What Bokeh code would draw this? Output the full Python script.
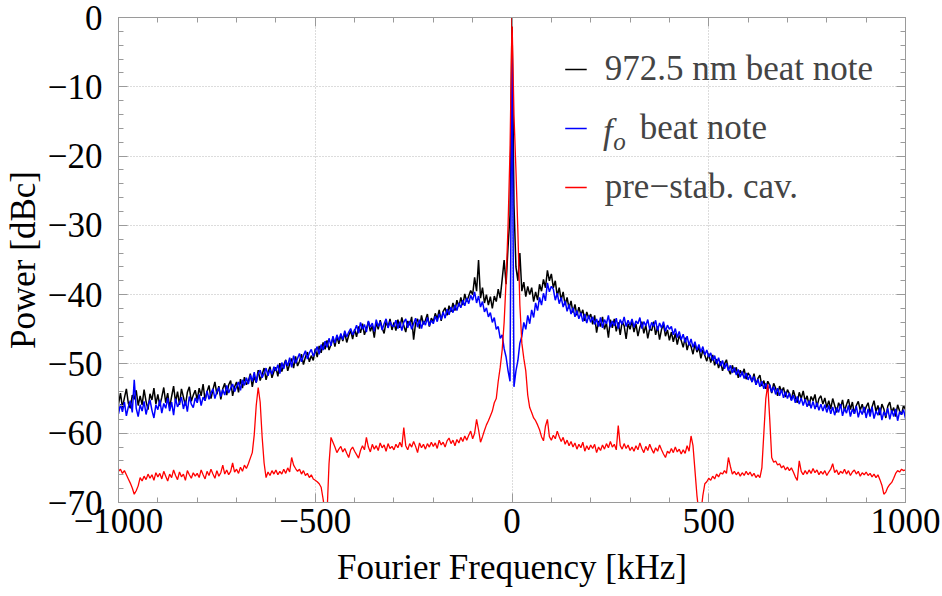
from bokeh.plotting import figure
from bokeh.models import Range1d, FixedTicker, LinearAxis, Legend, LegendItem, Label
from bokeh.embed import file_html
from bokeh.resources import INLINE

# ---------------- data ----------------
freq_khz = list(range(-1000, 1001, 5))

beat_972 = [
    # -1000 .. -905
    -55.8, -54.2, -56.3, -54.9, -53.6, -55.7, -56.4, -54.5, -55.1, -53.8, -56.0, -54.6, -55.9, -53.7, -55.4, -56.6, -54.3, -55.2, -53.5, -55.8,
    # -900 .. -805
    -54.4, -56.1, -54.8, -53.4, -55.6, -54.2, -56.3, -54.7, -53.2, -55.5, -54.0, -55.9, -53.6, -54.8, -56.0, -54.1, -53.3, -55.4, -54.5, -53.8,
    # -800 .. -705
    -55.2, -53.5, -54.6, -52.9, -55.3, -54.0, -53.1, -55.0, -53.7, -52.6, -54.4, -53.2, -55.1, -53.6, -52.8, -54.5, -53.0, -52.4, -54.6, -53.3,
    # -700 .. -605
    -52.6, -54.1, -52.2, -53.5, -51.9, -53.0, -52.5, -51.4, -53.3, -51.8, -52.7, -50.9, -52.4, -51.5, -50.6, -52.3, -51.2, -50.4, -52.0, -51.1,
    # -600 .. -505
    -50.5, -51.8, -49.9, -51.1, -50.2, -49.4, -51.0, -50.0, -49.2, -50.6, -48.9, -50.3, -49.6, -48.6, -50.1, -49.0, -48.3, -49.7, -48.8, -49.5,
    # -500 .. -405
    -47.8, -49.0, -47.4, -48.4, -46.9, -47.9, -46.6, -48.0, -47.2, -46.2, -47.5, -46.0, -47.1, -45.8, -46.7, -45.5, -46.9, -45.9, -45.2, -46.4,
    # -400 .. -305
    -45.0, -46.1, -44.6, -45.5, -44.2, -45.8, -44.9, -43.9, -45.3, -44.5, -46.2, -44.0, -45.0, -43.7, -44.8, -45.6, -43.9, -44.7, -43.5, -45.1,
    # -300 .. -205
    -44.0, -45.2, -43.6, -44.8, -43.3, -44.5, -45.4, -43.8, -44.4, -43.2, -46.5, -44.1, -43.5, -44.9, -43.0, -44.3, -43.7, -42.8, -44.6, -43.4,
    # -200 .. -105
    -43.9, -42.7, -43.5, -42.2, -43.8, -42.4, -41.9, -43.0, -41.6, -42.5, -41.2, -42.3, -40.8, -41.7, -40.4, -41.5, -39.9, -41.0, -40.2, -39.4,
    # -100 .. -5
    -40.0, -37.5, -39.5, -35.0, -40.5, -39.0, -41.2, -40.0, -41.5, -40.3, -42.0, -40.2, -41.0, -39.2, -40.5, -37.8, -35.0, -38.5, -33.0, -28.5,
    # 0
    0.0,
    # 5 .. 100
    -27.0, -36.0, -38.0, -34.0, -39.5, -38.2, -40.3, -38.8, -40.0, -39.0, -41.0, -39.6, -40.8, -38.5, -39.5, -37.8, -39.0, -36.5, -38.0, -37.0,
    # 105 .. 200
    -39.0, -38.0, -40.2, -39.0, -40.8, -39.6, -41.5, -40.4, -42.0, -40.9, -42.6, -41.4, -43.0, -41.8, -42.9, -42.2, -43.8, -42.5, -43.4, -42.8,
    # 205 .. 300
    -44.3, -43.0, -45.5, -43.8, -44.6, -43.2, -45.0, -44.1, -46.2, -43.6, -44.8, -43.5, -45.3, -44.0, -45.8, -43.9, -44.5, -46.4, -44.2, -45.0,
    # 305 .. 400
    -43.8, -45.4, -44.2, -46.0, -44.7, -43.9, -45.6, -44.4, -46.3, -44.9, -45.2, -43.9, -45.8, -44.6, -46.5, -45.0, -44.3, -46.0, -45.1, -46.6,
    # 405 .. 500
    -45.4, -46.8, -45.6, -47.2, -45.9, -46.6, -47.6, -46.2, -48.0, -46.9, -47.5, -48.6, -47.1, -48.3, -47.6, -49.2, -48.0, -48.8, -49.6, -48.5,
    # 505 .. 600
    -49.8, -48.7, -50.2, -49.3, -50.6, -49.6, -51.0, -50.0, -49.4, -50.8, -51.5, -50.2, -51.2, -50.5, -52.0, -50.9, -51.6, -50.7, -52.2, -51.3,
    # 605 .. 700
    -51.8, -52.6, -51.4, -53.0, -52.1, -51.6, -53.2, -52.4, -53.6, -52.5, -53.1, -54.2, -52.8, -53.5, -54.6, -53.2, -54.0, -53.4, -54.8, -53.7,
    # 705 .. 800
    -54.3, -55.2, -53.8, -54.8, -55.6, -54.1, -55.0, -53.9, -55.4, -54.6, -56.0, -54.7, -55.3, -54.4, -56.2, -55.0, -54.6, -55.8, -54.9, -56.3,
    # 805 .. 900
    -55.3, -56.5, -55.0, -56.0, -57.0, -55.6, -56.3, -55.2, -56.8, -55.9, -55.1, -56.6, -55.5, -57.2, -56.0, -55.4, -56.7, -55.8, -57.0, -56.2,
    # 905 .. 1000
    -55.6, -57.1, -56.2, -55.3, -56.9, -56.0, -57.4, -55.8, -56.5, -57.8, -56.1, -55.5, -57.0, -56.3, -57.6, -55.9, -56.8, -57.3, -56.0, -56.6,
]

beat_fo = [
    # -1000 .. -905
    -57.2, -55.8, -56.9, -55.5, -57.5, -56.2, -55.3, -57.0, -52.3, -56.4, -57.6, -55.9, -56.8, -55.4, -57.3, -56.0, -55.2, -56.7, -57.8, -55.9,
    # -900 .. -805
    -56.6, -55.2, -57.1, -55.7, -56.4, -54.9, -56.8, -55.5, -57.4, -55.0, -56.2, -55.6, -54.8, -56.5, -55.3, -56.9, -54.7, -55.8, -56.3, -54.9,
    # -800 .. -705
    -55.6, -54.4, -56.0, -54.8, -55.3, -53.9, -55.1, -54.2, -53.6, -55.0, -54.0, -53.4, -54.7, -53.7, -54.5, -53.1, -54.2, -53.5, -52.9, -54.0,
    # -700 .. -605
    -53.3, -52.6, -53.8, -52.3, -53.1, -52.0, -52.9, -51.6, -52.5, -51.2, -52.7, -51.4, -50.9, -52.0, -51.3, -50.6, -51.7, -50.8, -51.5, -50.4,
    # -600 .. -505
    -51.0, -50.1, -51.4, -49.8, -50.7, -49.5, -50.3, -49.1, -50.5, -48.8, -49.9, -49.2, -48.5, -49.7, -48.8, -48.1, -49.3, -48.4, -47.9, -48.9,
    # -500 .. -405
    -48.2, -47.5, -48.6, -47.2, -48.0, -46.7, -47.6, -46.3, -47.4, -46.0, -47.0, -45.8, -46.6, -45.6, -46.5, -45.2, -46.1, -45.4, -44.9, -45.8,
    # -400 .. -305
    -45.2, -44.4, -45.6, -44.0, -45.0, -44.3, -45.4, -43.8, -44.7, -44.1, -45.3, -43.6, -44.6, -43.9, -45.1, -44.2, -43.5, -44.8, -43.9, -44.5,
    # -300 .. -205
    -44.6, -43.7, -44.9, -43.9, -45.2, -44.0, -43.5, -44.8, -43.8, -45.0, -44.2, -43.4, -44.7, -43.6, -44.9, -43.8, -44.4, -43.3, -44.5, -43.7,
    # -200 .. -105
    -44.2, -43.1, -43.9, -42.8, -43.6, -42.5, -43.4, -42.1, -42.9, -41.8, -42.6, -41.5, -42.3, -41.2, -41.9, -40.8, -41.6, -40.5, -41.3, -40.1,
    # -100 .. -5
    -40.8, -39.6, -41.2, -40.2, -41.8, -41.0, -42.5, -41.9, -43.2, -42.6, -44.0, -43.3, -45.0, -44.6, -46.3, -45.8, -47.8, -49.0, -51.0, -52.5,
    # 0
    -2.5,
    # 5 .. 100
    -53.3, -51.0, -49.5, -47.0, -46.0, -44.0, -45.0, -43.0, -44.2, -42.2, -43.3, -41.2, -42.3, -40.4, -41.5, -39.8, -40.9, -38.3, -39.6, -38.8,
    # 105 .. 200
    -39.2, -40.8, -39.8, -41.3, -40.4, -41.8, -40.9, -42.4, -41.4, -42.8, -41.9, -43.2, -42.3, -43.5, -42.6, -43.9, -42.8, -44.1, -43.0, -44.0,
    # 205 .. 300
    -43.2, -44.3, -43.5, -44.6, -43.3, -44.8, -43.6, -44.2, -43.0, -44.7, -43.8, -44.5, -43.4, -44.9, -43.6, -44.3, -43.2, -44.6, -43.7, -44.4,
    # 305 .. 400
    -43.5, -44.7, -43.8, -44.2, -43.3, -44.9, -43.9, -44.5, -43.6, -45.0, -44.0, -44.6, -43.7, -45.2, -44.1, -44.8, -43.9, -45.3, -44.4, -45.0,
    # 405 .. 500
    -44.6, -45.8, -44.9, -46.2, -45.3, -46.5, -45.7, -46.9, -46.0, -47.3, -46.4, -47.6, -46.8, -48.0, -47.2, -48.3, -47.5, -48.7, -48.0, -49.0,
    # 505 .. 600
    -48.4, -49.5, -48.8, -50.0, -49.1, -50.3, -49.5, -50.7, -49.9, -51.0, -50.2, -51.3, -50.5, -51.6, -50.8, -51.9, -51.1, -52.1, -51.3, -52.3,
    # 605 .. 700
    -51.6, -52.6, -51.8, -53.0, -52.2, -53.3, -52.5, -53.6, -52.8, -53.9, -53.0, -54.1, -53.3, -54.4, -53.5, -54.6, -53.7, -54.9, -54.0, -55.0,
    # 705 .. 800
    -54.2, -55.3, -54.5, -55.6, -54.7, -55.8, -54.9, -56.0, -55.1, -56.2, -55.3, -56.4, -55.4, -56.5, -55.6, -56.7, -55.8, -56.8, -55.9, -57.0,
    # 805 .. 900
    -56.0, -57.2, -56.2, -57.4, -56.3, -57.0, -55.8, -57.5, -56.4, -57.1, -56.0, -57.6, -56.5, -57.2, -56.1, -57.7, -56.6, -57.3, -56.2, -57.8,
    # 905 .. 1000
    -56.5, -57.6, -56.2, -57.9, -56.8, -57.4, -56.3, -58.1, -56.9, -57.5, -56.4, -58.0, -56.7, -57.6, -56.5, -58.2, -56.9, -57.3, -56.6, -57.9,
]

prestab_cav = [
    # -1000 .. -905
    -65.5, -65.2, -65.8, -65.4, -66.0, -66.6, -67.2, -67.9, -68.8, -68.3, -67.6, -66.4, -66.9, -66.2, -66.7, -65.9, -66.5, -66.0, -66.8, -65.7,
    # -900 .. -805
    -66.3, -65.8, -66.6, -65.5, -66.2, -66.9, -65.9, -66.4, -65.3, -66.1, -66.7, -65.6, -66.3, -65.9, -66.8, -65.4, -66.0, -66.5, -65.7, -66.2,
    # -800 .. -705
    -65.8, -66.4, -65.3, -66.0, -66.6, -65.5, -66.1, -65.2, -65.9, -66.5, -65.4, -66.2, -65.7, -64.6, -65.9, -65.3, -66.0, -65.5, -64.3, -65.6,
    # -700 .. -605
    -65.2, -65.8, -64.9, -65.5, -64.6, -65.1, -64.4, -63.6, -62.8, -60.2, -56.0, -53.4, -55.5, -60.5, -64.3, -66.4, -65.6, -66.1, -65.4, -65.9,
    # -600 .. -505
    -65.3, -66.0, -65.5, -65.9, -65.2, -65.8, -65.0, -65.6, -63.5, -64.6, -65.1, -65.5, -65.2, -65.9, -65.4, -66.1, -65.8, -66.4, -66.0, -66.6,
    # -500 .. -405
    -66.8, -67.0, -67.3, -67.8, -69.5, -71.5, -71.5, -64.4, -60.6, -61.3, -62.0, -62.8, -62.3, -61.9, -62.7, -62.2, -62.9, -63.5, -62.4, -62.0,
    # -400 .. -305
    -62.6, -63.1, -63.6, -62.5, -61.8, -62.4, -60.6, -62.0, -62.7, -61.6, -62.3, -61.8, -62.5, -61.4, -62.1, -61.7, -62.6, -61.5, -62.2, -61.9,
    # -300 .. -205
    -62.4, -61.6, -62.1, -61.3, -62.0, -59.2, -61.8, -62.4, -61.5, -62.0, -61.2, -61.9, -62.8, -61.4, -62.1, -61.6, -62.3, -61.5, -62.0, -61.3,
    # -200 .. -105
    -61.9, -61.4, -62.2, -61.0, -61.7, -61.3, -62.0, -61.1, -60.7, -61.5, -61.0, -61.8, -60.9, -61.4, -60.6, -61.2, -60.4, -61.0, -60.3, -59.7,
    # -100 .. -5
    -60.8, -60.0, -58.0, -59.5, -61.3, -60.5, -59.6, -58.8, -58.2, -57.5, -56.8, -55.6, -55.0, -52.5, -50.5, -48.0, -44.0, -38.0, -30.0, -19.0,
    # 0
    0.0,
    # 5 .. 100
    -14.0, -22.0, -31.0, -41.5, -47.0, -49.2, -51.0, -54.5, -56.3, -57.0, -57.8, -58.2, -58.8, -59.5, -60.5, -61.1, -59.0, -58.0, -60.5, -61.0,
    # 105 .. 200
    -60.3, -60.8, -59.7, -60.5, -61.2, -60.6, -61.6, -61.0, -61.8, -61.2, -62.0, -61.4, -62.3, -61.6, -62.1, -61.3, -62.6, -61.8, -62.4, -61.7,
    # 205 .. 300
    -62.2, -61.6, -62.8, -62.0, -62.5, -61.7, -62.3, -61.5, -62.1, -61.2, -62.0, -61.6, -62.4, -58.9, -61.8, -62.3, -61.5, -62.2, -61.7, -62.5,
    # 305 .. 400
    -62.0, -62.6, -61.8, -62.4, -61.4, -62.2, -62.8, -61.9, -62.5, -61.6, -62.3, -62.9, -62.1, -62.6, -61.7, -62.4, -63.0, -63.5, -62.6, -62.9,
    # 405 .. 500
    -62.2, -62.8, -62.0, -62.7, -62.3, -63.0, -62.4, -62.9, -61.8, -62.6, -60.4, -61.8, -65.4, -69.0, -71.5, -71.5, -69.0, -67.3, -67.0, -66.5,
    # 505 .. 600
    -66.8, -66.2, -66.6, -65.9, -66.3, -65.7, -65.9, -65.4, -65.8, -63.5, -64.8, -65.9, -65.5, -66.0, -65.6, -66.2, -65.7, -66.1, -65.5, -66.0,
    # 605 .. 700
    -65.6, -66.2, -65.8, -66.4, -66.0, -66.4, -65.0, -60.0, -55.0, -53.0, -58.0, -63.5, -64.2, -64.0, -64.6, -64.4, -65.0, -64.7, -65.3, -64.9,
    # 705 .. 800
    -65.4, -65.0, -65.6, -66.3, -66.8, -64.0, -65.5, -66.0, -65.4, -65.9, -65.3, -65.8, -65.1, -65.7, -65.3, -66.0, -65.5, -65.9, -65.4, -66.1,
    # 805 .. 900
    -65.6, -65.2, -64.4, -65.7, -65.3, -66.0, -65.5, -65.8, -65.2, -65.9, -65.4, -66.1, -65.6, -65.3, -65.9, -65.5, -66.2, -65.7, -66.0, -65.6,
    # 905 .. 1000
    -66.1, -65.8, -66.3, -65.9, -66.4, -66.0, -66.7, -67.5, -68.8, -68.5, -67.8, -67.4, -67.1, -66.5, -65.8, -65.4, -65.6, -65.2, -65.4, -65.3,
]

x_major = [-1000, -500, 0, 500, 1000]
x_tick_labels = ["\u22121000", "\u2212500", "0", "500", "1000"]
x_minor = list(range(-1000, 1001, 100))
y_major = [0, -10, -20, -30, -40, -50, -60, -70]
y_tick_labels = ["0", "\u221210", "\u221220", "\u221230", "\u221240", "\u221250", "\u221260", "\u221270"]
y_minor = list(range(-70, 1, 2))

x_title = "Fourier Frequency [kHz]"
y_title = "Power [dBc]"
series_labels = ["972.5 nm beat note", "beat note", "pre\u2212stab. cav."]
series_colors = ["#000000", "#0000ff", "#ff0000"]

FONT = "Liberation Serif"
FS = "35px"
AX = "#9a9a9a"

p = figure(width=942, height=596, output_backend="svg", toolbar_location=None,
           x_range=Range1d(-1000, 1000), y_range=Range1d(-70, 0),
           min_border_left=116, min_border_right=37, min_border_top=17, min_border_bottom=94,
           x_axis_label=x_title, y_axis_label=y_title)
p.background_fill_color = "white"
p.border_fill_color = "white"
p.outline_line_color = AX
p.outline_line_width = 1

xax = p.below[0]
yax = p.left[0]

xt = FixedTicker(ticks=x_major, minor_ticks=x_minor)
yt = FixedTicker(ticks=y_major, minor_ticks=y_minor)

xax.ticker = xt
yax.ticker = yt
xax.major_label_overrides = {v: s for v, s in zip(x_major, x_tick_labels)}
yax.major_label_overrides = {v: s for v, s in zip(y_major, y_tick_labels)}

top_ax = LinearAxis(ticker=FixedTicker(ticks=x_major, minor_ticks=x_minor))
right_ax = LinearAxis(ticker=FixedTicker(ticks=y_major, minor_ticks=y_minor))
p.add_layout(top_ax, "above")
p.add_layout(right_ax, "right")

for ax in [xax, yax, top_ax, right_ax]:
    ax.axis_line_color = AX
    ax.major_tick_line_color = AX
    ax.minor_tick_line_color = AX
    ax.major_tick_in = 9
    ax.major_tick_out = 0
    ax.minor_tick_in = 5
    ax.minor_tick_out = 0
    ax.major_label_text_font = FONT
    ax.major_label_text_font_size = FS
    ax.major_label_text_color = "black"
    ax.axis_label_text_font = FONT
    ax.axis_label_text_font_size = FS
    ax.axis_label_text_font_style = "normal"
    ax.axis_label_text_color = "black"

top_ax.major_label_text_font_size = "0px"
top_ax.major_label_standoff = 0
top_ax.major_label_overrides = {v: "" for v in x_major}
right_ax.major_label_text_font_size = "0px"
right_ax.major_label_standoff = 0
right_ax.major_label_overrides = {v: "" for v in y_major}

xax.major_label_standoff = 6
xax.axis_label_standoff = 12
yax.major_label_standoff = 16
yax.axis_label_standoff = 2

p.xgrid.ticker = xt
p.ygrid.ticker = yt
for g in [p.xgrid[0], p.ygrid[0]]:
    g.grid_line_color = "#b8b8b8"
    g.grid_line_dash = "1 2"
    g.grid_line_width = 1

r1 = p.line(freq_khz, beat_972, line_color=series_colors[0], line_width=1.5)
r2 = p.line(freq_khz, beat_fo, line_color=series_colors[1], line_width=1.5)
r3 = p.line(freq_khz, prestab_cav, line_color=series_colors[2], line_width=1.3)

legend = Legend(items=[
    LegendItem(label=series_labels[0], renderers=[r1]),
    LegendItem(label="\u00a0\u00a0\u00a0\u00a0" + series_labels[1], renderers=[r2]),
    LegendItem(label=series_labels[2], renderers=[r3]),
], location="top_right")
legend.border_line_color = None
legend.background_fill_alpha = 0
legend.label_text_font = FONT
legend.label_text_font_size = FS
legend.glyph_width = 22
legend.glyph_height = 40
legend.label_height = 40
legend.spacing = 19
legend.label_standoff = 18
legend.padding = 10
legend.margin = 32
p.add_layout(legend)

# italic "f" with subscript "o" for the second legend entry
p.add_layout(Label(x=231, y=-16.4, text="f", text_font=FONT, text_font_style="italic",
                   text_font_size=FS, text_baseline="middle", text_align="left"))
p.add_layout(Label(x=257, y=-17.9, text="o", text_font=FONT, text_font_style="italic",
                   text_font_size="25px", text_baseline="middle", text_align="left"))

open("out.html", "w").write(file_html(p, INLINE))
